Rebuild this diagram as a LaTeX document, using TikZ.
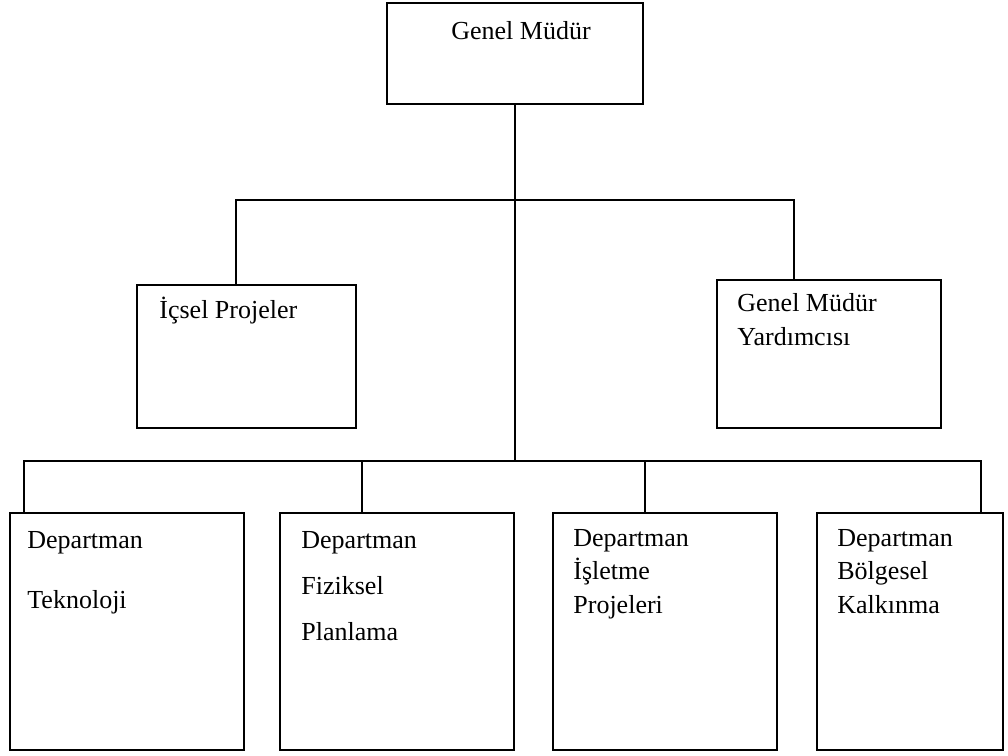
\documentclass[tikz,border=0pt]{standalone}
\usepackage{fontspec}
\setmainfont{Liberation Serif}
\usepackage{tikz}
\usetikzlibrary{positioning, calc}

\begin{document}
\begin{tikzpicture}[x=0.5pt, y=-0.5pt,
	box/.style={draw, rectangle, line width=1pt, inner sep=0pt},
	link/.style={line width=1pt},
	txt/.style={inner sep=0pt, align=left, font=\fontsize{13}{16.75}\selectfont}]
	\useasboundingbox (0,0) rectangle (1008,756);
	
	\node[box, minimum width=128pt, minimum height=50.5pt] (gm) at (515,53.5) {};
	\node[box, minimum width=109.5pt, minimum height=71.5pt] (ic) at (246.5,356.5) {};
	\node[box, minimum width=112pt, minimum height=74pt] (gmy) at (829,354) {};
	\node[box, minimum width=117pt, minimum height=118.5pt] (d1) at (127,631.5) {};
	\node[box, minimum width=117pt, minimum height=118.5pt] (d2) at (397,631.5) {};
	\node[box, minimum width=112pt, minimum height=118.5pt] (d3) at (665,631.5) {};
	\node[box, minimum width=93pt, minimum height=118.5pt] (d4) at (910,631.5) {};
	
	\node[txt, anchor=base] (gmtxt) at ([xshift=3pt, yshift=-18.5pt]gm.north) {Genel Müdür};
	\node[txt, anchor=base west] (ictxt) at ([xshift=11.5pt, yshift=-17pt]ic.north west) {İçsel Projeler};
	\node[txt, anchor=base west] (gmytxt) at ([xshift=10.5pt, yshift=-33pt]gmy.north west) {Genel Müdür\\Yardımcısı};
	\node[txt, anchor=base west] (d1txt) at ([xshift=9pt, yshift=-48pt]d1.north west) {Departman\\[13.25pt]Teknoloji};
	\node[txt, anchor=base west] (d2txt) at ([xshift=11pt, yshift=-64pt]d2.north west) {Departman\\[6.25pt]Fiziksel\\[6.25pt]Planlama};
	\node[txt, anchor=base west] (d3txt) at ([xshift=10.5pt, yshift=-50.5pt]d3.north west) {Departman\\İşletme\\Projeleri};
	\node[txt, anchor=base west] (d4txt) at ([xshift=10.5pt, yshift=-50.5pt]d4.north west) {Departman\\Bölgesel\\Kalkınma};
	
	\coordinate (bus1) at (515,200);
	\coordinate (bus2) at (515,461);
	\draw[link] (gm.south) -- (bus2);
	\draw[link] (bus1) -| ([xshift=50pt]ic.north west);
	\draw[link] (bus1) -| ([xshift=39pt]gmy.north west);
	\draw[link] (bus2) -| ([xshift=7.5pt]d1.north west);
	\draw[link] (bus2) -| ([xshift=41.5pt]d2.north west);
	\draw[link] (bus2) -| ([xshift=46.5pt]d3.north west);
	\draw[link] (bus2) -| ([xshift=82.5pt]d4.north west);
\end{tikzpicture}
\end{document}
